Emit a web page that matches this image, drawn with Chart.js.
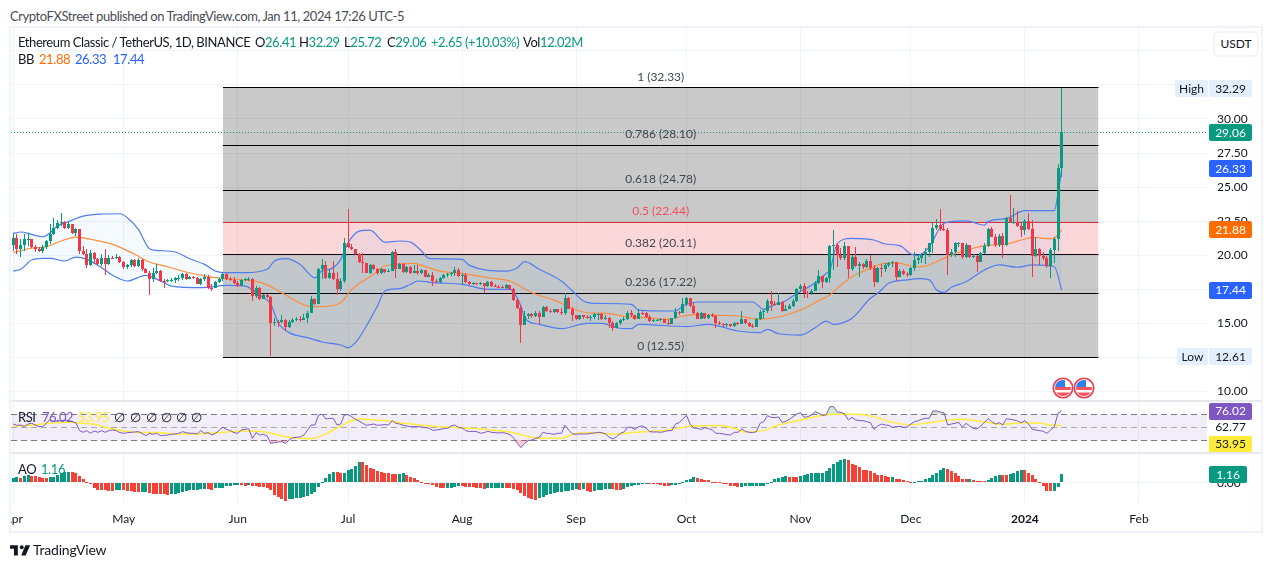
<!DOCTYPE html>
<html>
<head>
<meta charset="utf-8">
<title>ETCUSDT</title>
<script src="https://cdn.jsdelivr.net/npm/chart.js@4"></script>
<style>
  html, body { margin: 0; background: #fff; }
  body { width: 1273px; height: 568px; position: relative; overflow: hidden; font-family: Lato, sans-serif; color: #131722; }
  canvas { position: absolute; left: 11px; }
  .t { position: absolute; white-space: nowrap; font-size: 13px; letter-spacing: -0.42px; line-height: 16px; }
  .frame { position: absolute; left: 9px; top: 26px; width: 1254px; height: 507px; box-sizing: border-box; border: 2px solid #f0f3fa; }
  .sep { position: absolute; left: 11px; width: 1250px; height: 2px; background: #e6e8ef; }
  .usdt { position: absolute; left: 1213px; top: 31px; width: 46px; height: 26px; box-sizing: border-box; border: 2px solid #f0f3fa; border-radius: 6px; background: #fff; font-size: 12px; line-height: 22px; text-align: center; }
  .g { color: #089981; } .o { color: #ff6d00; } .b { color: #2962ff; } .p { color: #7e57c2; } .y { color: #ffeb3b; }
</style>
</head>
<body>
<div class="t" style="left:10px;top:8px;color:#4a4d57">CryptoFXStreet published on TradingView.com, Jan 11, 2024 17:26 UTC-5</div>
<div class="frame"></div>
<canvas id="priceChart" width="1250" height="373" style="top:28px"></canvas>
<canvas id="rsiChart" width="1250" height="51" style="top:402px"></canvas>
<canvas id="aoChart" width="1250" height="77" style="top:454px"></canvas>
<div class="sep" style="top:400px"></div>
<div class="sep" style="top:452px"></div>
<div class="usdt">USDT</div>

<div class="t" style="left:18px;top:34px">Ethereum Classic / TetherUS, 1D, BINANCE</div>
<div class="t" style="left:255px;top:34px">O<span class="g">26.41</span></div>
<div class="t" style="left:299px;top:34px">H<span class="g">32.29</span></div>
<div class="t" style="left:344px;top:34px">L<span class="g">25.72</span></div>
<div class="t" style="left:387px;top:34px">C<span class="g">29.06</span></div>
<div class="t g" style="left:431px;top:34px">+2.65</div>
<div class="t g" style="left:465px;top:34px">(+10.03%)</div>
<div class="t" style="left:523px;top:34px">Vol<span class="g">12.02M</span></div>
<div class="t" style="left:18px;top:51px">BB</div>
<div class="t o" style="left:39px;top:51px">21.88</div>
<div class="t b" style="left:75px;top:51px">26.33</div>
<div class="t b" style="left:113px;top:51px">17.44</div>

<div class="t" style="left:18px;top:409px">RSI</div>
<div class="t p" style="left:42px;top:409px">76.02</div>
<div class="t y" style="left:78px;top:409px">53.95</div>
<div class="t" style="left:114px;top:409px">∅</div>
<div class="t" style="left:130px;top:409px">∅</div>
<div class="t" style="left:146px;top:409px">∅</div>
<div class="t" style="left:161px;top:409px">∅</div>
<div class="t" style="left:176px;top:409px">∅</div>
<div class="t" style="left:191px;top:409px">∅</div>
<div class="t" style="left:18px;top:461px">AO</div>
<div class="t g" style="left:41px;top:461px">1.16</div>

<svg style="position:absolute;left:0;top:0;pointer-events:none" width="1273" height="568">
  <defs>
    <clipPath id="flagClip"><circle cx="0" cy="0" r="8"/></clipPath>
    <g id="flag">
      <circle r="10.5" fill="#fff"/>
      <circle r="9.7" fill="none" stroke="#f23645" stroke-width="1.6"/>
      <g clip-path="url(#flagClip)">
        <rect x="-8" y="-8" width="16" height="16" fill="#fff"/>
        <rect x="-8" y="-1" width="16" height="3" fill="#f7525f"/>
        <rect x="-8" y="4.5" width="16" height="4" fill="#f7525f"/>
        <rect x="-8" y="-8" width="10" height="7" fill="#2f80ed"/>
      </g>
    </g>
  </defs>
  <use href="#flag" x="1063" y="388"/>
  <use href="#flag" x="1084" y="388"/>
  <g transform="translate(10,542) scale(0.56)" fill="#131722">
    <path d="M14 6H0v6h7v12h7V6Z"/>
    <circle cx="21" cy="9.5" r="3.5"/>
    <path d="M28 24h-8l7.5-18H36L28 24Z"/>
  </g>
</svg>
<div class="t" style="left:33px;top:542px;font-size:14px;letter-spacing:-0.2px;color:#131722">TradingView</div>

<script>
// daily candles, first one is 1 Apr 2023
const firstDay = Date.UTC(2023, 3, 1);
const dayCount = 325;

const opens = [
  20.72,21.28,20.47,20.72,21.16,21.21,20.62,20.47,20.30,20.62,
  21.04,21.53,22.02,22.38,22.46,22.02,22.26,21.65,21.89,20.30,
  20.06,19.25,20.18,19.69,19.35,19.81,19.32,19.81,19.79,19.86,
  19.50,19.15,19.30,19.64,19.20,19.64,19.01,18.71,18.22,18.71,
  18.84,18.10,18.08,18.17,18.18,18.30,18.35,18.59,18.27,18.37,
  18.35,17.91,18.22,18.42,17.61,17.59,18.05,18.22,18.59,18.22,
  18.17,17.98,17.73,18.17,18.22,18.27,17.00,17.61,16.80,17.05,
  16.95,15.04,15.11,15.09,15.24,14.72,15.11,15.24,15.34,15.24,
  15.38,15.78,16.80,16.39,18.96,19.25,18.35,18.66,18.27,17.49,
  18.10,20.91,20.62,20.43,20.06,19.50,19.40,18.71,19.25,18.96,
  18.71,18.96,18.79,18.84,20.23,19.01,19.32,18.76,19.15,18.71,
  18.81,18.66,18.88,18.42,18.52,18.10,18.03,18.35,18.52,18.59,
  18.66,18.88,18.47,18.52,18.03,17.86,17.93,17.86,17.93,17.73,
  18.03,17.73,17.68,17.66,17.61,17.78,17.49,16.71,16.14,14.87,
  15.53,15.65,15.53,15.78,15.48,16.22,15.90,15.83,16.02,15.83,
  15.73,16.88,16.07,15.58,15.29,15.58,15.48,15.46,15.49,15.65,
  15.70,15.29,15.41,15.04,14.67,15.04,15.24,15.34,15.78,15.58,
  15.34,15.78,15.73,15.48,15.16,15.21,15.24,15.29,15.04,14.92,
  15.36,15.82,15.73,16.39,16.83,16.27,15.73,15.34,15.73,15.41,
  15.58,15.53,15.04,14.92,14.85,14.92,14.80,14.99,14.97,15.29,
  14.99,14.80,14.75,15.34,15.82,15.90,16.63,16.39,16.37,16.56,
  15.90,16.07,16.27,16.63,17.49,17.73,17.24,17.19,17.37,17.98,
  18.47,18.06,18.30,20.67,20.75,20.01,19.77,20.67,18.99,19.89,
  19.23,19.35,19.16,19.60,19.03,18.01,19.03,18.99,19.28,19.45,
  19.52,18.42,18.86,18.59,18.54,19.03,19.65,19.77,20.01,20.26,
  20.87,21.97,22.22,21.90,21.85,20.01,20.26,20.87,20.92,19.89,
  20.75,19.89,19.94,19.52,20.14,20.70,21.90,21.36,20.75,21.41,
  20.75,22.70,22.41,22.46,22.17,21.85,22.51,21.92,19.96,20.45,
  19.96,19.82,19.21,20.38,21.16,26.41
];
const closes = [
  21.28,20.47,20.72,21.16,21.21,20.62,20.47,20.30,20.62,21.04,
  21.53,22.02,22.38,22.46,22.02,22.26,21.65,21.89,20.30,20.06,
  19.25,20.18,19.69,19.35,19.81,19.32,19.81,19.79,19.86,19.50,
  19.15,19.30,19.64,19.20,19.64,19.01,18.71,18.22,18.71,18.84,
  18.10,18.08,18.17,18.18,18.30,18.35,18.59,18.27,18.37,18.35,
  17.91,18.22,18.42,17.61,17.59,18.05,18.22,18.59,18.22,18.17,
  17.98,17.73,18.17,18.22,18.27,17.00,17.61,16.80,17.05,16.95,
  15.04,15.11,15.09,15.24,14.72,15.11,15.24,15.34,15.24,15.38,
  15.78,16.80,16.39,18.96,19.25,18.35,18.66,18.27,17.49,18.10,
  20.91,20.62,20.43,20.06,19.50,19.40,18.71,19.25,18.96,18.71,
  18.96,18.79,18.84,20.23,19.01,19.32,18.76,19.15,18.71,18.81,
  18.66,18.88,18.42,18.52,18.10,18.03,18.35,18.52,18.59,18.66,
  18.88,18.47,18.52,18.03,17.86,17.93,17.86,17.93,17.73,18.03,
  17.73,17.68,17.66,17.61,17.78,17.49,16.71,16.14,14.87,15.53,
  15.65,15.53,15.78,15.48,16.22,15.90,15.83,16.02,15.83,15.73,
  16.88,16.07,15.58,15.29,15.58,15.48,15.46,15.49,15.65,15.70,
  15.29,15.41,15.04,14.67,15.04,15.24,15.34,15.78,15.58,15.34,
  15.78,15.73,15.48,15.16,15.21,15.24,15.29,15.04,14.92,15.36,
  15.82,15.73,16.39,16.83,16.27,15.73,15.34,15.73,15.41,15.58,
  15.53,15.04,14.92,14.85,14.92,14.80,14.99,14.97,15.29,14.99,
  14.80,14.75,15.34,15.82,15.90,16.63,16.39,16.37,16.56,15.90,
  16.07,16.27,16.63,17.49,17.73,17.24,17.19,17.37,17.98,18.47,
  18.06,18.30,20.67,20.75,20.01,19.77,20.67,18.99,19.89,19.23,
  19.35,19.16,19.60,19.03,18.01,19.03,18.99,19.28,19.45,19.52,
  18.42,18.86,18.59,18.54,19.03,19.65,19.77,20.01,20.26,20.87,
  21.97,22.22,21.90,21.85,20.01,20.26,20.87,20.92,19.89,20.75,
  19.89,19.94,19.52,20.14,20.70,21.90,21.36,20.75,21.41,20.75,
  22.70,22.41,22.46,22.17,21.85,22.51,21.92,19.96,20.45,19.96,
  19.82,19.21,20.38,21.16,26.41,29.06
];
const highs = [
  21.65,21.53,21.16,21.53,21.60,21.21,20.74,20.62,20.72,21.11,
  22.26,22.75,22.58,23.12,22.51,22.46,22.31,22.02,21.94,20.67,
  20.43,20.35,20.25,19.81,20.06,20.43,19.98,19.94,20.06,19.94,
  19.57,19.32,19.74,19.74,19.81,19.74,19.08,18.84,19.08,19.32,
  18.88,18.27,18.27,18.35,18.42,18.52,18.71,18.66,18.47,18.47,
  18.42,18.35,18.59,18.52,17.86,18.10,18.35,18.71,18.66,18.42,
  18.37,18.10,18.27,18.35,18.42,18.35,17.73,17.68,17.12,17.12,
  17.00,15.41,15.24,15.58,15.29,15.24,15.41,15.46,15.53,15.65,
  15.90,17.00,16.88,19.08,19.74,19.57,18.96,19.57,18.76,18.35,
  21.23,23.36,20.79,20.47,20.18,20.13,19.45,19.32,19.32,19.08,
  19.08,19.01,18.96,20.30,20.43,19.40,19.45,19.20,19.20,19.25,
  19.25,19.01,18.88,18.66,18.76,18.27,18.42,18.59,18.71,18.76,
  19.15,19.08,18.71,18.66,18.10,18.03,17.98,18.03,17.98,18.12,
  18.08,17.88,17.83,17.78,17.86,17.73,17.59,16.80,16.31,15.90,
  15.78,15.73,15.87,15.87,16.26,16.26,16.07,16.07,16.07,16.12,
  17.19,16.95,16.22,15.63,15.63,15.58,15.58,15.63,15.73,15.78,
  15.73,15.58,15.46,15.16,15.09,15.34,15.46,15.90,15.97,15.63,
  16.02,15.92,15.82,15.58,15.34,15.34,15.39,15.34,15.29,15.41,
  16.14,15.87,16.88,16.95,16.88,16.51,15.82,15.82,15.78,15.68,
  15.78,15.58,15.14,15.04,14.99,14.97,15.09,15.09,15.90,15.34,
  15.09,14.92,15.41,15.97,16.02,16.75,17.37,16.63,17.19,16.63,
  16.31,16.39,16.80,17.61,17.90,17.98,17.37,17.49,18.10,18.91,
  18.47,18.42,20.75,21.85,20.87,20.50,20.99,20.13,20.01,20.63,
  19.52,19.45,19.70,20.01,19.28,19.11,19.35,19.45,19.52,19.60,
  19.28,18.96,19.01,18.79,19.11,20.26,19.94,20.18,20.50,20.92,
  22.34,22.63,23.37,22.29,21.97,20.43,20.99,20.99,20.92,20.87,
  20.75,20.09,20.01,20.26,20.92,21.97,22.09,21.55,21.53,21.60,
  22.78,24.42,23.44,23.27,22.46,22.63,23.07,22.58,21.36,20.50,
  20.26,19.94,20.50,21.31,26.69,32.29
];
const lows = [
  20.30,20.06,19.86,20.30,20.67,20.55,20.23,20.25,20.18,20.47,
  20.79,21.45,21.94,22.14,21.94,21.89,21.53,21.40,20.06,20.01,
  19.08,19.20,19.32,19.25,19.20,18.52,19.25,19.69,19.69,19.40,
  18.96,18.96,19.15,19.15,19.15,18.84,18.66,17.07,18.03,18.59,
  18.03,17.61,18.03,18.03,17.98,18.10,18.17,18.17,18.27,18.22,
  17.86,17.78,18.10,17.54,17.37,17.61,17.93,18.10,18.17,18.10,
  17.91,17.68,17.73,18.10,18.10,16.63,16.88,16.71,16.80,16.88,
  12.61,14.80,14.75,14.99,14.43,14.67,14.99,15.16,15.09,15.24,
  15.04,15.73,16.31,16.58,18.27,18.22,18.22,18.17,17.07,17.39,
  17.98,20.55,20.35,19.98,19.45,18.71,18.66,18.59,18.88,18.57,
  18.59,18.71,18.76,18.91,18.35,18.96,18.71,18.66,18.59,18.66,
  18.52,18.61,18.37,18.42,17.73,17.98,17.93,18.22,18.39,18.47,
  18.47,18.42,17.86,17.98,17.81,17.83,17.81,17.83,17.24,17.66,
  17.68,17.64,17.61,17.56,17.51,17.44,16.63,16.02,13.52,14.85,
  15.29,15.41,15.43,14.92,15.48,15.83,15.78,15.73,15.78,15.58,
  15.60,16.02,15.19,15.24,15.24,15.34,15.34,15.14,15.29,15.24,
  15.24,15.24,14.67,14.43,14.65,14.90,15.14,15.21,15.48,15.24,
  15.29,15.63,15.38,15.09,15.09,15.14,15.14,14.99,14.85,15.09,
  15.29,15.63,15.73,16.27,16.22,15.65,15.29,15.29,15.34,15.34,
  15.48,14.63,14.85,14.75,14.70,14.70,14.75,14.90,14.94,14.92,
  14.75,14.65,14.75,15.24,15.34,15.78,15.90,16.27,16.31,15.82,
  15.97,16.02,16.22,16.56,17.37,16.83,16.83,17.10,17.34,17.88,
  17.57,17.93,17.93,18.91,19.16,19.65,19.65,18.35,18.86,19.16,
  18.42,18.96,19.03,18.91,17.69,17.96,18.42,18.79,19.16,19.16,
  18.10,18.42,18.52,18.42,18.47,18.86,19.35,19.40,19.35,19.89,
  20.18,21.87,21.80,21.80,18.55,19.89,19.89,20.63,19.70,19.77,
  19.77,19.77,18.79,19.52,20.09,20.58,21.31,20.63,20.63,19.77,
  20.70,22.34,22.29,22.09,21.31,21.48,21.85,18.42,19.89,19.28,
  19.65,19.03,18.35,19.45,20.33,25.72
];

const bbUpperDays = [0,2,5,8,10,12,15,19,24,29,31,34,37,39,44,48,52,55,58,63,69,71,74,78,82,84,86,89,91,94,97,101,105,108,111,113,122,124,134,137,139,143,149,152,155,158,168,170,180,182,186,201,204,207,209,213,218,221,222,224,228,234,237,241,244,246,249,253,259,264,265,270,275,283,284,285];
const bbUpper = [21.60,21.70,21.53,21.35,21.65,22.14,22.46,22.87,23.02,23.04,22.75,21.89,20.47,20.35,20.23,19.74,19.32,18.83,18.71,18.71,18.96,19.57,19.74,19.32,18.34,18.88,18.96,19.69,20.91,21.77,21.84,20.96,21.04,20.96,20.30,19.76,19.69,19.25,18.83,19.08,19.52,18.96,18.10,17.37,16.63,16.46,16.39,15.97,15.90,16.26,16.56,16.56,16.02,16.39,16.51,17.19,17.98,18.67,18.91,20.87,21.23,21.11,20.82,20.70,20.08,19.99,20.62,22.34,22.51,22.21,22.46,22.70,23.27,23.27,24.54,26.33];
const bbMiddleDays = [0,4,9,13,17,22,27,33,37,42,47,53,58,63,68,73,81,83,89,92,98,101,109,111,116,122,129,135,141,147,156,161,167,172,178,182,186,192,197,203,209,214,219,222,225,228,233,237,241,245,248,252,255,260,264,270,274,277,282,284,285];
const bbMiddle = [20.18,20.47,20.62,21.04,21.33,21.11,20.79,20.06,19.50,19.15,18.76,18.42,18.27,18.17,17.93,17.24,16.22,16.22,16.51,17.49,18.59,19.20,19.40,19.25,18.83,18.66,18.34,18.10,17.24,16.70,15.77,15.73,15.48,15.41,15.29,15.53,15.65,15.58,15.53,15.29,15.53,15.97,16.66,17.07,17.81,18.42,19.03,19.40,19.40,19.15,19.20,19.64,20.01,20.43,20.70,20.82,21.11,21.31,21.19,21.48,21.88];
const bbLowerDays = [0,2,5,8,10,14,17,20,24,27,31,36,40,43,51,58,63,67,70,72,75,80,84,89,91,93,96,99,101,105,108,110,114,122,129,135,138,139,143,149,156,160,164,168,170,183,189,197,203,205,208,214,218,221,223,225,228,233,235,238,243,246,249,251,253,255,259,264,268,273,277,283,285];
const bbLower = [18.83,18.96,19.64,19.76,19.76,19.57,19.86,19.69,19.08,18.52,18.10,18.52,18.10,17.73,17.61,17.78,17.73,17.05,16.39,15.04,14.31,13.94,13.62,13.40,13.20,13.57,14.80,16.26,17.37,17.54,17.86,18.10,17.98,17.86,17.49,17.49,16.26,15.41,14.92,14.60,14.99,14.99,14.67,14.60,14.92,14.75,14.92,14.43,14.31,14.55,14.23,14.13,14.67,15.16,14.92,14.99,15.36,16.83,17.20,17.93,18.18,18.27,18.18,17.44,17.25,17.64,18.05,18.91,19.28,19.11,19.28,19.15,17.44];

const rsiValues = [
  54.9,52.9,53.4,50.8,54.9,56,53.4,50.8,50.8,56,
  62.2,58.6,60.1,60.1,61.2,60.1,58.6,57,44.6,42,
  44.6,40.4,44,42,44.6,42,44.6,45.6,44.6,41.5,
  40.4,41.5,42,42.5,43,40.4,36.8,40.4,38.9,40.4,
  36.8,37.3,37.8,38.9,39.4,40.4,43,41.5,40.4,40.4,
  39.4,44.6,40.4,41.5,37.8,40.4,45.6,49.8,46.6,44.6,
  41.5,40.4,45.6,46.6,47.7,32.6,41.5,37.8,38.9,36.3,
  24.8,25.9,26.9,27.4,24.8,30,33.7,34.2,34.7,37.8,
  45.6,53.4,53.4,69,70,62.7,63.8,63.8,53.4,54.9,
  69,69.5,66.4,62.2,59.6,56,52.9,53.9,54.9,52.9,
  53.4,53.9,53.4,60.1,56,
  54.9,52.9,51.8,50.8,50.8,50.8,50.3,49.2,48.7,45.1,
  45.6,46.6,47.7,48.2,51.8,53.4,49.8,48.7,44.6,43,
  43.5,43,40.4,41.5,43.5,42,41.5,40.9,41.5,40.4,
  38.3,33.7,24.8,18,24.8,29,30,32.6,34.2,42,
  40.4,39.9,38.9,40.4,40.4,52.9,45.6,39.4,38.9,39.4,
  39.4,39.4,40.4,40.9,42,41.5,39.4,34.2,31.6,35.2,
  40.4,42.5,49.8,49.8,46.6,50.8,51.8,48.7,43,42.5,
  42.5,42,43,44.6,44.6,54.9,57,62.7,68.4,54.9,
  48.7,48.2,46.6,49.2,47.7,45.6,40.4,40.4,39.4,38.3,
  37.8,42,42,47.2,43.5,42,41.5,43,56,58.6,
  67.9,65.3,64.8,65.8,57.5,59.1,62.2,66.4,70.5,72.6,
  65.3,66.4,69,74.2,71.6,67.9,69.5,81.9,81.9,73.6,
  73.1,70.5,61.2,65.3,61.2,60.1,60.1,58.6,57,46.6,
  51.8,54.9,53.4,52.9,49.8,50.8,51.3,49.8,50.3,54.9,
  58.6,60.1,62.2,63.8,63.8,75.2,75.2,73.6,72.6,53.4,
  54.9,56,57.5,49.8,56,51.8,48.2,47.2,51.8,57.5,
  63.3,58.6,54.9,57,53.4,63.3,62.2,61.2,59.6,57,
  60.1,54.9,46.6,45.6,44.6,43.5,40.4,45.6,50.8,71.6,76.02
];
const rsiMaDays = [0,5,10,15,17,22,26,30,35,39,44,49,53,58,62,68,73,78,81,83,87,91,94,98,102,105,110,116,121,127,132,135,139,143,149,152,158,163,169,174,178,183,186,192,196,199,204,208,214,219,223,229,234,238,244,248,254,258,264,269,275,279,284,285];
const rsiMa = [51.8,53.4,56,57.5,57,54.4,48.2,44,41.5,41.5,39.4,39.4,40.4,42.5,44,43,36.3,32.6,32.1,35.2,45.6,57.5,63.3,61.2,59.6,57,53.9,50.8,49.2,47.2,44.6,42.5,36.8,32.6,32.6,38.9,41.5,38.9,42,43.5,45.6,50.8,51.8,52.4,48.2,42.5,44.6,53.4,61.2,67.4,70,70,66.4,58.6,53.9,56,61.2,62.2,58,54.4,57,56,52.4,53.95];
const rsiLevels = [70, 50, 30];

const aoValues = [
  .58,.7,.65,.85,.98,.88,.85,.82,.65,.6,
  .72,.75,1.0,1.33,1.4,1.42,1.4,1.3,.9,.5,
  .08,-.2,-.75,-.95,-1.0,-1.02,-1.05,-1.08,-1.03,-.98,
  -1.0,-1.1,-1.15,-1.2,-1.28,-1.25,-1.2,-1.4,-1.45,-1.46,
  -1.48,-1.5,-1.6,-1.55,-1.5,-1.42,-1.2,-1.1,-1.0,-.95,
  -.92,-.9,-.85,-.9,-.95,-.75,-.7,-.68,-.5,-.45,
  -.3,-.28,-.35,-.38,-.3,-.4,-.5,-.55,-.6,-.7,
  -1.0,-1.6,-1.9,-2.2,-2.4,-2.2,-2.15,-2.1,-2.05,-1.9,
  -1.75,-1.5,-1.3,-.6,.1,.6,1.1,1.4,1.38,1.3,
  1.35,1.65,1.85,2.2,2.75,2.7,2.3,2.0,1.85,1.6,
  1.45,1.35,1.25,1.2,1.18,1.22,1.25,1.05,.75,.6,
  .3,.12,-.03,-.1,-.25,-.55,-.65,-.7,-.68,-.66,
  -.55,-.45,-.5,-.55,-.6,-.62,-.65,-.7,-.85,-.75,
  -.72,-.7,-.68,-.65,-.7,-.75,-.85,-.95,-1.35,-1.8,
  -2.1,-2.2,-2.25,-2.1,-1.9,-1.65,-1.5,-1.4,-1.3,-1.25,
  -1.1,-1.05,-.95,-.9,-.95,-.9,-1.15,-1.2,-1.1,-1.0,
  -.95,-.85,-.83,-.9,-.95,-.97,-.9,-.6,-.45,-.35,
  -.3,-.1,-.05,-.08,-.1,-.15,-.3,-.4,-.42,-.35,
  -.25,-.1,.1,.3,.55,.7,.68,.55,.4,.3,
  .15,.08,.02,-.1,-.2,-.45,-.5,-.6,-.55,-.5,
  -.48,-.45,-.44,-.4,-.38,-.15,.1,.5,.6,.75,
  .85,.8,.75,.7,.95,1.05,1.15,1.25,1.27,1.3,
  1.35,1.6,1.9,2.5,2.75,3.0,3.2,3.0,2.45,2.3,
  2.05,1.7,1.65,1.5,1.25,1.0,.98,.85,.8,.82,
  .55,.45,.35,.22,.08,.09,.2,.25,.45,.65,
  1.0,1.25,1.7,1.9,1.85,1.6,1.25,.85,.5,.48,
  .5,.35,.2,.19,.18,.35,.6,.85,1.0,.98,
  .97,1.1,1.25,1.5,1.7,1.68,1.35,1.0,.5,.05,
  -.4,-1.05,-1.15,-1.1,-.55,1.16
];

const fibLevels = [1, 0.786, 0.618, 0.5, 0.382, 0.236, 0];
const fibPrices = [32.33, 28.10, 24.78, 22.44, 20.11, 17.22, 12.55];
const fibStartDay = 57;
const fibEndDay = 295;

const monthDays = [0, 30, 61, 91, 122, 153, 183, 214, 244, 275, 306];
const monthLabels = ['Apr', 'May', 'Jun', 'Jul', 'Aug', 'Sep', 'Oct', 'Nov', 'Dec', '2024', 'Feb'];
const priceGridTicks = [10, 12.5, 15, 17.5, 20, 22.5, 25, 27.5, 30, 32.5, 35];
const priceTickLabels = [10, 15, 20, 22.5, 25, 27.5, 30];
const lastClose = 29.06;

const UP = '#089981';
const DOWN = '#f23645';
const AO_DOWN = '#f44336';
const GRID = '#f0f3fa';
const FONT = 'Lato, sans-serif';

const categories = [];
for (let i = 0; i < dayCount; i++) {
  categories.push(new Date(firstDay + i * 86400000).toISOString().slice(0, 10));
}
const points = (days, values) => days.map((d, i) => ({ x: categories[d], y: values[i] }));
const flat = (from, to, value) => [{ x: categories[from], y: value }, { x: categories[to], y: value }];
const candleColors = closes.map((c, i) => (c >= opens[i] ? UP : DOWN));
const aoColors = aoValues.map((v, i) => (i > 0 && v < aoValues[i - 1] ? AO_DOWN : UP));

// no room kept for half labels at the ends of an axis
function dropPadding(s) {
  s.paddingLeft = 0;
  s.paddingRight = 0;
  s.paddingTop = 0;
  s.paddingBottom = 0;
}

function timeScale(withLabels) {
  return {
    type: 'category',
    offset: true,
    border: { display: false },
    grid: { color: GRID, offset: false, drawTicks: false },
    afterBuildTicks: s => { s.ticks = s.ticks.filter(t => monthDays.includes(t.value)); },
    afterFit: s => { s.height = withLabels ? 28 : 0; dropPadding(s); },
    ticks: {
      display: withLabels,
      autoSkip: false,
      maxRotation: 0,
      padding: 9,
      color: '#131722',
      font: ctx => ({ family: FONT, size: 12, weight: ctx.tick && ctx.tick.label === '2024' ? 'bold' : 'normal' }),
      callback: value => monthLabels[monthDays.indexOf(value)] || ''
    }
  };
}

function valueScale(min, max, ticks, labelFor, showGrid) {
  return {
    position: 'right',
    min, max,
    border: { display: false },
    grid: { display: showGrid, color: GRID, drawTicks: false },
    afterBuildTicks: s => { s.ticks = ticks.map(v => ({ value: v })); },
    afterFit: s => { s.width = 54; dropPadding(s); },
    ticks: {
      padding: 10,
      color: '#131722',
      font: { family: FONT, size: 12 },
      callback: labelFor
    }
  };
}

// candles, oscillator bars and level lines get whole pixels, like the original
const snapMarks = {
  id: 'snapMarks',
  afterDatasetsUpdate(chart) {
    chart.getSortedVisibleDatasetMetas().forEach(meta => {
      if (meta.type === 'bar') {
        meta.data.forEach(el => {
          el.x = Math.floor(el.x) + 0.5;
          el.y = Math.round(el.y);
          el.base = Math.round(el.base);
          if (el.y === el.base) el.base += 1;
        });
      } else if (meta.data.length === 2) {
        meta.data.forEach(p => { p.y = Math.round(p.y) + 0.5; });
        if (meta.controller.getDataset().fullWidth) {
          meta.data[0].x = Math.round(chart.chartArea.left);
          meta.data[1].x = Math.round(chart.chartArea.right);
        }
      }
    });
  }
};

function badge(ctx, text, x, midY, w, bg, fg) {
  const h = 17;
  if (bg) {
    ctx.fillStyle = bg;
    ctx.beginPath();
    ctx.roundRect(x, Math.round(midY - h / 2), w, h, 2);
    ctx.fill();
  }
  ctx.fillStyle = fg;
  ctx.font = '12px ' + FONT;
  ctx.textAlign = 'center';
  ctx.textBaseline = 'middle';
  ctx.fillText(text, x + w / 2, midY + 0.5);
}

const priceOverlay = {
  id: 'priceOverlay',
  afterDatasetsDraw(chart) {
    const { ctx, scales: { x, y } } = chart;
    const mid = (x.getPixelForValue(fibStartDay) + x.getPixelForValue(fibEndDay)) / 2;
    ctx.save();
    ctx.font = '12px ' + FONT;
    ctx.textAlign = 'center';
    ctx.textBaseline = 'middle';
    fibLevels.forEach((level, i) => {
      ctx.fillStyle = level === 0.5 ? '#f2505c' : '#434651';
      ctx.fillText(level + ' (' + fibPrices[i].toFixed(2) + ')', mid, y.getPixelForValue(fibPrices[i]) - 10.5);
    });
    ctx.restore();
  },
  afterDraw(chart) {
    const { ctx, scales: { y } } = chart;
    const left = y.left + 2;
    ctx.save();
    badge(ctx, '29.06', left, y.getPixelForValue(29.06) + 0.5, 43, UP, '#fff');
    badge(ctx, '26.33', left, y.getPixelForValue(26.33), 43, '#2962ff', '#fff');
    badge(ctx, '21.88', left, y.getPixelForValue(21.88), 43, '#ff6d00', '#fff');
    badge(ctx, '17.44', left, y.getPixelForValue(17.44), 43, '#2962ff', '#fff');
    badge(ctx, '32.29', left, y.getPixelForValue(32.29) + 0.5, 43, '#e3effd', '#131722');
    badge(ctx, 'High', left - 34, y.getPixelForValue(32.29) + 0.5, 33, '#e3effd', '#131722');
    badge(ctx, '12.61', left, y.getPixelForValue(12.61) + 0.5, 43, '#e3effd', '#131722');
    badge(ctx, 'Low', left - 32, y.getPixelForValue(12.61) + 0.5, 31, '#e3effd', '#131722');
    ctx.restore();
  }
};

const rsiOverlay = {
  id: 'rsiOverlay',
  afterDraw(chart) {
    const { ctx, scales: { y } } = chart;
    const left = y.left + 2;
    ctx.save();
    badge(ctx, '76.02', left, 9, 43, '#7e57c2', '#fff');
    badge(ctx, '62.77', left, 25, 43, null, '#131722');
    badge(ctx, '53.95', left, 42, 43, '#ffeb3b', '#131722');
    ctx.restore();
  }
};

const aoOverlay = {
  id: 'aoOverlay',
  afterDraw(chart) {
    const { ctx, scales: { y } } = chart;
    ctx.save();
    badge(ctx, '1.16', y.left + 2, y.getPixelForValue(1.16) + 0.5, 38, UP, '#fff');
    ctx.restore();
  }
};

const commonOptions = {
  responsive: false,
  animation: false,
  devicePixelRatio: 1,
  events: [],
  layout: { padding: { left: 0.46 } },
  plugins: { legend: { display: false }, tooltip: { enabled: false } }
};

const lineBase = { type: 'line', pointRadius: 0, fill: false };

// fib lines come first so the fills can point at them by index
const fibDatasets = fibPrices.map((price, i) => ({
  ...lineBase,
  data: flat(fibStartDay, fibEndDay, price),
  borderColor: fibLevels[i] === 0.5 ? '#f23645' : '#000',
  borderWidth: 1,
  order: 20
}));
fibDatasets[0].fill = { target: 3 };
fibDatasets[0].backgroundColor = 'rgba(0,0,0,0.21)';
fibDatasets[3].fill = { target: 4 };
fibDatasets[3].backgroundColor = 'rgba(242,54,69,0.2)';
fibDatasets[4].fill = { target: 6 };
fibDatasets[4].backgroundColor = 'rgba(0,0,0,0.21)';

new Chart(document.getElementById('priceChart'), {
  type: 'bar',
  data: {
    labels: categories,
    datasets: [
      ...fibDatasets, // 0..6
      {
        ...lineBase, // 7
        data: points(bbUpperDays, bbUpper),
        borderColor: '#4f7df0',
        borderWidth: 1.2,
        cubicInterpolationMode: 'monotone',
        fill: { target: 8 },
        backgroundColor: 'rgba(33,150,243,0.05)',
        order: 10
      },
      {
        ...lineBase, // 8
        data: points(bbLowerDays, bbLower),
        borderColor: '#4f7df0',
        borderWidth: 1.2,
        cubicInterpolationMode: 'monotone',
        order: 9
      },
      {
        ...lineBase,
        data: points(bbMiddleDays, bbMiddle),
        borderColor: '#ff8c3a',
        borderWidth: 1.2,
        cubicInterpolationMode: 'monotone',
        order: 8
      },
      {
        ...lineBase,
        data: flat(0, dayCount - 1, lastClose),
        fullWidth: true,
        borderColor: UP,
        borderWidth: 1,
        borderDash: [1, 2],
        order: 7
      },
      {
        data: lows.map((l, i) => [l, highs[i]]),
        backgroundColor: candleColors,
        barThickness: 1,
        grouped: false,
        inflateAmount: 0,
        order: 2
      },
      {
        data: opens.map((o, i) => [o, closes[i]]),
        backgroundColor: candleColors,
        barThickness: 3,
        grouped: false,
        inflateAmount: 0,
        order: 1
      }
    ]
  },
  options: {
    ...commonOptions,
    scales: {
      x: timeScale(false),
      y: valueScale(9.29, 36.68, priceGridTicks, v => (priceTickLabels.includes(v) ? v.toFixed(2) : ''), true)
    }
  },
  plugins: [snapMarks, priceOverlay]
});

const rsiPoints = rsiValues.map((v, i) => ({ x: categories[i], y: v }));
new Chart(document.getElementById('rsiChart'), {
  type: 'line',
  data: {
    labels: categories,
    datasets: [
      {
        ...lineBase,
        data: flat(0, dayCount - 1, rsiLevels[0]),
        fullWidth: true,
        borderColor: '#787b86',
        borderWidth: 1,
        borderDash: [6, 4],
        fill: { target: 2 },
        backgroundColor: 'rgba(126,87,194,0.1)',
        order: 9
      },
      {
        ...lineBase,
        data: flat(0, dayCount - 1, rsiLevels[1]),
        fullWidth: true,
        borderColor: 'rgba(120,123,134,0.6)',
        borderWidth: 1,
        borderDash: [6, 4],
        order: 8
      },
      {
        ...lineBase,
        data: flat(0, dayCount - 1, rsiLevels[2]),
        fullWidth: true,
        borderColor: '#787b86',
        borderWidth: 1,
        borderDash: [6, 4],
        order: 8
      },
      {
        ...lineBase,
        data: rsiPoints,
        borderWidth: 0,
        fill: { target: { value: rsiLevels[0] }, above: 'rgba(76,175,80,0.25)', below: 'transparent' },
        order: 7
      },
      {
        ...lineBase,
        data: rsiPoints,
        borderWidth: 0,
        fill: { target: { value: rsiLevels[2] }, above: 'transparent', below: 'rgba(242,54,69,0.25)' },
        order: 7
      },
      {
        ...lineBase,
        data: points(rsiMaDays, rsiMa),
        borderColor: '#ffeb3b',
        borderWidth: 1.5,
        cubicInterpolationMode: 'monotone',
        order: 2
      },
      {
        ...lineBase,
        data: rsiPoints,
        borderColor: '#7e57c2',
        borderWidth: 1,
        order: 1
      }
    ]
  },
  options: {
    ...commonOptions,
    scales: {
      x: timeScale(false),
      y: valueScale(9.75, 89.2, [], () => '', false)
    }
  },
  plugins: [snapMarks, rsiOverlay]
});

new Chart(document.getElementById('aoChart'), {
  type: 'bar',
  data: {
    labels: categories,
    datasets: [{
      data: aoValues,
      backgroundColor: aoColors,
      barThickness: 3,
      inflateAmount: 0
    }]
  },
  options: {
    ...commonOptions,
    scales: {
      x: timeScale(true),
      y: valueScale(-2.71, 3.83, [0], v => v.toFixed(2), true)
    }
  },
  plugins: [snapMarks, aoOverlay]
});
</script>
</body>
</html>
